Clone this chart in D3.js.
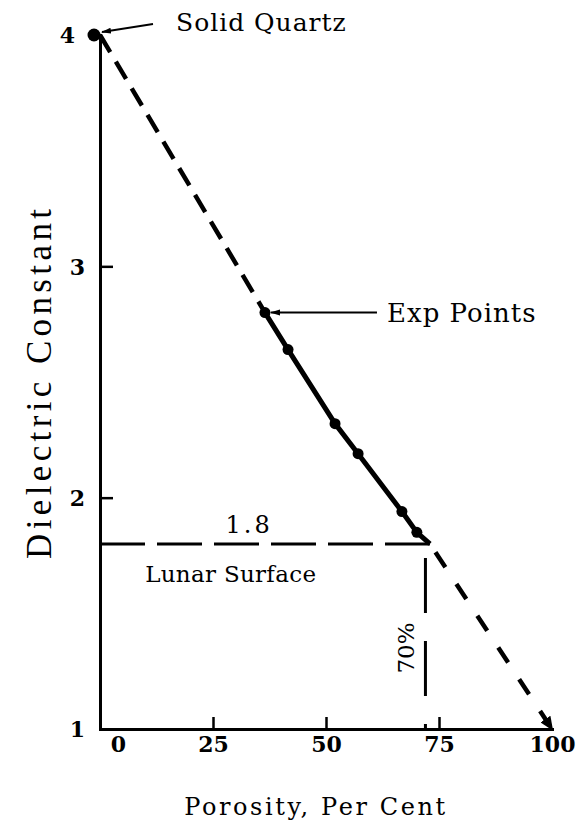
<!DOCTYPE html>
<html>
<head>
<meta charset="utf-8">
<script src="https://cdn.jsdelivr.net/npm/d3@7"></script>
<style>
body { margin: 0; background: #fff; }
text { font-family: "DejaVu Serif", serif; fill: #000; }
.axis text { font-weight: bold; font-size: 22px; }
</style>
</head>
<body>
<div id="chart"></div>
<script>
var width = 577,
    height = 830;

// solid quartz at zero porosity
var quartz = [0, 4];
// experimental points, porosity (per cent) and dielectric constant
var expPorosity = [36.5, 41.6, 52.0, 57.1, 66.8, 70.1];
var expDielectric = [2.80, 2.64, 2.32, 2.19, 1.94, 1.85];
// where the fitted line crosses the lunar value
var crossPoint = [73, 1.8];
var endPoint = [100, 1];
var lunarDielectric = 1.8;
var lunarPorosity = 72;
var xTicks = [0, 25, 50, 75, 100];
var yTicks = [1, 2, 3, 4];

var svg = d3.select("#chart").append("svg")
    .attr("width", width)
    .attr("height", height);

var x = d3.scaleLinear().domain([0, 100]).range([100, 552]);
var y = d3.scaleLinear().domain([1, 4]).range([729, 35]);

var defs = svg.append("defs");
defs.append("marker")
    .attr("id", "bigArrow")
    .attr("markerUnits", "userSpaceOnUse")
    .attr("viewBox", "0 -6 14 12")
    .attr("refX", 12).attr("refY", 0)
    .attr("markerWidth", 14).attr("markerHeight", 12)
    .attr("orient", "auto")
    .append("path").attr("d", "M0,-6L14,0L0,6Z");
defs.append("marker")
    .attr("id", "smallArrow")
    .attr("markerUnits", "userSpaceOnUse")
    .attr("viewBox", "0 -4 10 8")
    .attr("refX", 9).attr("refY", 0)
    .attr("markerWidth", 10).attr("markerHeight", 8)
    .attr("orient", "auto")
    .append("path").attr("d", "M0,-3L10,0L0,3Z");

// axes
var yAxis = d3.axisLeft(y)
    .tickValues(yTicks)
    .tickFormat(d3.format("d"))
    .tickSizeInner(-13)
    .tickSizeOuter(0)
    .tickPadding(15);
var xAxis = d3.axisBottom(x)
    .tickValues(xTicks)
    .tickFormat(d3.format("d"))
    .tickSizeInner(-12)
    .tickSizeOuter(0)
    .tickPadding(7);

var gx = svg.append("g")
    .attr("class", "axis")
    .attr("transform", "translate(0," + y(1) + ")")
    .call(xAxis);
var gy = svg.append("g")
    .attr("class", "axis")
    .attr("transform", "translate(" + x(0) + ",0)")
    .call(yAxis);

svg.selectAll(".axis .domain")
    .attr("stroke-width", 3)
    .attr("stroke-linecap", "square");
svg.selectAll(".axis .tick line").attr("stroke-width", 2.5);
gx.selectAll(".tick").filter(function(d) { return d == 0 || d == 100; })
    .select("line").remove();
gy.selectAll(".tick").filter(function(d) { return d == 1 || d == 4; })
    .select("line").remove();
gx.selectAll(".tick").filter(function(d) { return d == 0; })
    .select("text").attr("dx", 18);
gy.selectAll("text").attr("dy", "0.36em");
// the scan's axis leans a little, so the top labels sit further left
gy.selectAll(".tick").filter(function(d) { return d == 4; })
    .select("text").attr("dx", -10);

var line = d3.line()
    .x(function(d) { return x(d[0]); })
    .y(function(d) { return y(d[1]); });

var expPts = expPorosity.map(function(p, i) { return [p, expDielectric[i]]; });

// dashed theory line, quartz to first point
svg.append("path")
    .attr("d", line([quartz, expPts[0]]))
    .attr("fill", "none").attr("stroke", "#000")
    .attr("stroke-width", 4.5)
    .attr("stroke-dasharray", "20,11");

// solid line through the measured points
svg.append("path")
    .attr("d", line(expPts.concat([crossPoint])))
    .attr("fill", "none").attr("stroke", "#000")
    .attr("stroke-width", 5)
    .attr("stroke-linejoin", "round");

// dashed extension to 100 per cent
svg.append("path")
    .attr("d", line([crossPoint, endPoint]))
    .attr("fill", "none").attr("stroke", "#000")
    .attr("stroke-width", 4.5)
    .attr("stroke-dasharray", "0,10,18,10")
    .attr("marker-end", "url(#bigArrow)");

// lunar surface guide lines
svg.append("path")
    .attr("d", line([[0, lunarDielectric], crossPoint]))
    .attr("fill", "none").attr("stroke", "#000")
    .attr("stroke-width", 3)
    .attr("stroke-dasharray", "45,12");
svg.append("path")
    .attr("d", line([[lunarPorosity, lunarDielectric], [lunarPorosity, 1]]))
    .attr("fill", "none").attr("stroke", "#000")
    .attr("stroke-width", 3)
    .attr("stroke-dasharray", "0,14,55,14");

svg.append("g").selectAll("circle")
    .data(expPts)
    .enter().append("circle")
    .attr("cx", function(d) { return x(d[0]); })
    .attr("cy", function(d) { return y(d[1]); })
    .attr("r", 5.5);

svg.append("circle")
    .attr("cx", x(quartz[0]) - 6)
    .attr("cy", y(quartz[1]))
    .attr("r", 6.5);

// annotations
svg.append("line")
    .attr("x1", x(quartz[0]) + 53).attr("y1", y(quartz[1]) - 11)
    .attr("x2", x(quartz[0]) + 2).attr("y2", y(quartz[1]) - 3)
    .attr("stroke", "#000").attr("stroke-width", 2)
    .attr("marker-end", "url(#smallArrow)");
svg.append("text")
    .attr("x", 176).attr("y", 31)
    .style("font-size", "25px")
    .style("letter-spacing", "1px")
    .text("Solid Quartz");

svg.append("line")
    .attr("x1", x(expPts[0][0]) + 112).attr("y1", y(expPts[0][1]))
    .attr("x2", x(expPts[0][0]) + 6).attr("y2", y(expPts[0][1]))
    .attr("stroke", "#000").attr("stroke-width", 2)
    .attr("marker-end", "url(#smallArrow)");
svg.append("text")
    .attr("x", 387).attr("y", y(expPts[0][1]) + 9)
    .style("font-size", "26px")
    .style("letter-spacing", "1px")
    .text("Exp Points");

svg.append("text")
    .attr("x", x(33)).attr("y", y(lunarDielectric) - 11)
    .attr("text-anchor", "middle")
    .style("font-size", "24px")
    .style("letter-spacing", "3px")
    .text("1.8");

svg.append("text")
    .attr("x", x(10)).attr("y", y(lunarDielectric) + 38)
    .style("font-size", "23px")
    .style("letter-spacing", "0.3px")
    .text("Lunar Surface");

svg.append("text")
    .attr("transform", "translate(" + (x(lunarPorosity) - 11) + "," + y(1.35) + ")rotate(-90)")
    .attr("text-anchor", "middle")
    .style("font-size", "23px")
    .text("70%");

// axis titles
svg.append("text")
    .attr("transform", "translate(51,384)rotate(-90)")
    .attr("text-anchor", "middle")
    .attr("textLength", 350)
    .attr("lengthAdjust", "spacing")
    .style("font-family", "'Liberation Serif', serif")
    .style("font-size", "35px")
    .text("Dielectric Constant");

svg.append("text")
    .attr("x", 316).attr("y", 815)
    .attr("text-anchor", "middle")
    .style("font-size", "24px")
    .style("letter-spacing", "2.6px")
    .text("Porosity,  Per Cent");
</script>
</body>
</html>
